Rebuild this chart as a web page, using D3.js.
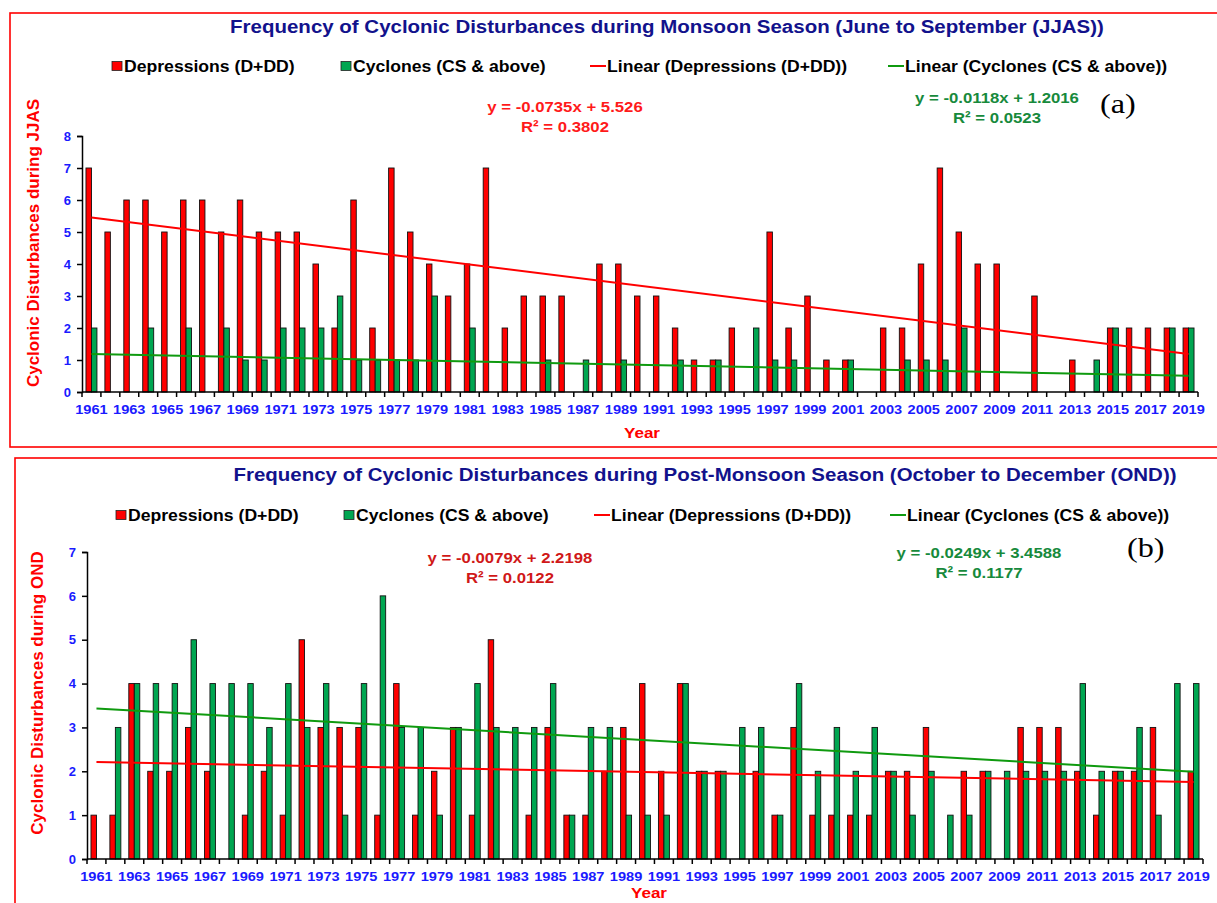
<!DOCTYPE html>
<html>
<head>
<meta charset="utf-8">
<script src="https://cdn.jsdelivr.net/npm/d3@7"></script>
<style>
  body { margin: 0; background: #fff; }
  svg { display: block; font-family: "Liberation Sans", Arial, sans-serif; }
</style>
</head>
<body>
<svg width="1217" height="903"></svg>
<script>
// ---- data ----
var years = [1961,1962,1963,1964,1965,1966,1967,1968,1969,1970,
             1971,1972,1973,1974,1975,1976,1977,1978,1979,1980,
             1981,1982,1983,1984,1985,1986,1987,1988,1989,1990,
             1991,1992,1993,1994,1995,1996,1997,1998,1999,2000,
             2001,2002,2003,2004,2005,2006,2007,2008,2009,2010,
             2011,2012,2013,2014,2015,2016,2017,2018,2019];

var yearLabels = [1961,1963,1965,1967,1969,1971,1973,1975,1977,1979,1981,1983,1985,
                  1987,1989,1991,1993,1995,1997,1999,2001,2003,2005,2007,2009,2011,
                  2013,2015,2017,2019];

// monsoon season (JJAS)
var jjasDepressions = [7,5,6,6,5,6,6,5,6,5, 5,5,4,2,6,2,7,5,4,3, 4,7,2,3,3,3,0,4,4,3,
                       3,2,1,1,2,0,5,2,3,1, 1,0,2,2,4,7,5,4,4,0, 3,0,1,0,2,2,2,2,2];
var jjasCyclones    = [2,0,0,2,0,2,0,2,1,1, 2,2,2,3,1,1,1,1,3,0, 2,0,0,0,1,0,1,0,1,0,
                       0,1,0,1,0,2,1,1,0,0, 1,0,0,1,1,1,2,0,0,0, 0,0,0,1,2,0,0,2,2];

// post-monsoon season (OND)
var ondDepressions  = [1,1,4,2,2,3,2,0,1,2, 1,5,3,3,3,1,4,1,2,3, 1,5,0,1,3,1,1,2,3,4,
                       2,4,2,2,0,2,1,3,1,1, 1,1,2,2,3,0,2,2,0,3, 3,3,2,1,2,2,3,0,2];
var ondCyclones     = [0,3,4,4,4,5,4,4,4,3, 4,3,4,1,4,6,3,3,1,3, 4,3,3,3,4,1,3,3,1,1,
                       1,4,2,2,3,3,1,4,2,3, 2,3,2,1,2,1,1,2,2,2, 2,2,4,2,2,3,1,4,4];

// trend lines as printed on the chart: [slope, intercept], x = 1..59
var jjasTrendDep = [-0.0735, 5.526];
var jjasTrendCyc = [-0.0118, 1.2016];
var ondTrendDep  = [-0.0079, 2.2198];
var ondTrendCyc  = [-0.0249, 3.4588];

var jjasEquations = [["y = -0.0735x + 5.526", "R\u00b2 = 0.3802"], ["y = -0.0118x + 1.2016", "R\u00b2 = 0.0523"]];
var ondEquations  = [["y = -0.0079x + 2.2198", "R\u00b2 = 0.0122"], ["y = -0.0249x + 3.4588", "R\u00b2 = 0.1177"]];

var legendLabels = ["Depressions (D+DD)", "Cyclones (CS & above)",
                    "Linear (Depressions (D+DD))", "Linear (Cyclones (CS & above))"];

var RED = "#ff0000", GREEN = "#00a651", TREND_GREEN = "#0f9a0f",
    BLUE = "#1a1aff", NAVY = "#12128c";

var svg = d3.select("svg");
svg.append("rect").attr("width", 1217).attr("height", 903).attr("fill", "#fff");

// the original figure is a little wider than its fonts; widen text to match
function widen(sel, k) {
  sel.each(function() {
    var w = this.getComputedTextLength();
    d3.select(this).attr("textLength", w * k).attr("lengthAdjust", "spacingAndGlyphs");
  });
  return sel;
}

function drawPanel(p) {
  var g = svg.append("g");

  // red frame
  g.append("rect")
      .attr("x", p.frame[0]).attr("y", p.frame[1])
      .attr("width", p.frame[2]).attr("height", p.frame[3])
      .attr("fill", "none").attr("stroke", RED).attr("stroke-width", 1.6);

  var x = d3.scaleBand().domain(years).range([p.left, p.right])
      .paddingInner(0.42).paddingOuter(0.21);
  var xs = d3.scaleBand().domain(["dep", "cyc"]).range([0, x.bandwidth()]);
  var y = d3.scaleLinear().domain([0, p.ymax]).range([p.bottom, p.top]);
  var step = x.step();

  // bars
  var rows = years.map(function(yr, i) {
    return {year: yr, dep: p.dep[i], cyc: p.cyc[i]};
  });
  ["dep", "cyc"].forEach(function(key) {
    g.selectAll(".bar-" + key)
      .data(rows.filter(function(d) { return d[key] > 0; }))
      .enter().append("rect")
        .attr("class", "bar-" + key)
        .attr("x", function(d) { return x(d.year) + xs(key); })
        .attr("y", function(d) { return y(d[key]); })
        .attr("width", xs.bandwidth())
        .attr("height", function(d) { return y(0) - y(d[key]); })
        .attr("fill", key == "dep" ? RED : GREEN)
        .attr("stroke", "#111").attr("stroke-width", 0.9);
  });

  // trend lines
  var xi = d3.scaleLinear().domain([1, years.length])
      .range([x(years[0]) + x.bandwidth() / 2, x(years[years.length - 1]) + x.bandwidth() / 2]);
  [[p.trendDep, RED], [p.trendCyc, TREND_GREEN]].forEach(function(t) {
    var c = t[0];
    g.append("line")
        .attr("x1", xi(1)).attr("y1", y(c[0] * 1 + c[1]))
        .attr("x2", xi(years.length)).attr("y2", y(c[0] * years.length + c[1]))
        .attr("stroke", t[1]).attr("stroke-width", 2);
  });

  // y axis
  var yAxis = g.append("g")
      .attr("transform", "translate(" + p.left + ",0)")
      .call(d3.axisLeft(y).ticks(p.ymax).tickSize(5).tickPadding(6).tickFormat(d3.format("d")));
  yAxis.select(".domain").attr("stroke", "#000").attr("stroke-width", 1.5);
  yAxis.selectAll(".tick line").attr("stroke", "#000").attr("stroke-width", 1.5);
  yAxis.selectAll("text").attr("fill", BLUE).attr("font-size", 13).attr("font-weight", "bold")
      .attr("font-family", "'Liberation Sans', Arial, sans-serif");

  // x axis: ticks between categories, labels every other year
  var xAxisG = g.append("g").attr("transform", "translate(0," + p.bottom + ")");
  xAxisG.append("line")
      .attr("x1", p.left).attr("x2", p.right)
      .attr("stroke", "#000").attr("stroke-width", 1.6);
  xAxisG.selectAll(".xtick")
    .data(years.concat([null]))
    .enter().append("line")
      .attr("class", "xtick")
      .attr("x1", function(d, i) { return p.left + i * step; })
      .attr("x2", function(d, i) { return p.left + i * step; })
      .attr("y1", 0).attr("y2", 5)
      .attr("stroke", "#000").attr("stroke-width", 1.5);
  widen(xAxisG.selectAll(".xlab")
    .data(yearLabels)
    .enter().append("text")
      .attr("class", "xlab")
      .attr("x", function(d) { return x(d) + x.bandwidth() / 2; })
      .attr("y", 21.5)
      .attr("text-anchor", "middle")
      .attr("fill", BLUE).attr("font-size", 13).attr("font-weight", "bold")
      .text(function(d) { return d; }), 1.12);

  // axis titles
  widen(g.append("text")
      .attr("x", p.yearX).attr("y", p.yearY)
      .attr("text-anchor", "middle")
      .attr("fill", RED).attr("font-size", 15.5).attr("font-weight", "bold")
      .text("Year"), 1.1);
  g.append("text")
      .attr("transform", "translate(" + p.ytitle[0] + "," + p.ytitle[1] + ") rotate(-90)")
      .attr("text-anchor", "middle")
      .attr("fill", RED).attr("font-size", 17).attr("font-weight", "bold")
      .text(p.ylabel);

  // chart title
  widen(g.append("text")
      .attr("x", p.title[0]).attr("y", p.title[1])
      .attr("text-anchor", "middle")
      .attr("fill", NAVY).attr("font-size", 17.5).attr("font-weight", "bold")
      .text(p.titleText), 1.17);

  // legend
  var lg = g.append("g").attr("transform", "translate(0," + p.legendY + ")");
  var kinds = ["box", "box", "line", "line"];
  var colors = [RED, GREEN, RED, TREND_GREEN];
  legendLabels.forEach(function(label, i) {
    var lx = p.legendX[i];
    if (kinds[i] == "box") {
      lg.append("rect").attr("x", lx).attr("y", -4.5).attr("width", 10).attr("height", 9)
        .attr("fill", colors[i]).attr("stroke", "#222").attr("stroke-width", 0.8);
      lx += 12;
    } else {
      lg.append("line").attr("x1", lx).attr("x2", lx + 16).attr("y1", 0).attr("y2", 0)
        .attr("stroke", colors[i]).attr("stroke-width", 2);
      lx += 17;
    }
    widen(lg.append("text").attr("x", lx).attr("y", 6)
      .attr("fill", "#000").attr("font-size", 16).attr("font-weight", "bold")
      .text(label), 1.1);
  });

  // trendline equations
  [[p.eqDep, p.eqDepColor, p.equations[0]], [p.eqCyc, "#178a3c", p.equations[1]]].forEach(function(e) {
    e[2].forEach(function(line, j) {
      widen(g.append("text")
          .attr("x", e[0][0]).attr("y", e[0][1] + j * e[0][2])
          .attr("text-anchor", "middle")
          .attr("fill", e[1]).attr("font-size", 15.5).attr("font-weight", "bold")
          .text(line), 1.08);
    });
  });

  // panel tag
  widen(g.append("text")
      .attr("x", p.tag[0]).attr("y", p.tag[1])
      .attr("fill", "#000").attr("font-size", 28)
      .attr("font-family", "'Liberation Serif', 'Times New Roman', serif")
      .text(p.tagText), 1.15);
}

drawPanel({
  frame: [10, 13, 1220, 434],
  left: 82, right: 1198, top: 136, bottom: 392, ymax: 8,
  dep: jjasDepressions, cyc: jjasCyclones,
  trendDep: jjasTrendDep, trendCyc: jjasTrendCyc,
  ylabel: "Cyclonic Disturbances during JJAS", ytitle: [39, 243],
  yearX: 642, yearY: 438,
  titleText: "Frequency of Cyclonic Disturbances during Monsoon Season (June to September (JJAS))",
  title: [667, 33],
  legendY: 66, legendX: [112, 341, 590, 888],
  equations: jjasEquations, eqDep: [565, 112, 20], eqDepColor: "#ff1a1a", eqCyc: [997, 103, 20],
  tag: [1100, 113], tagText: "(a)"
});

drawPanel({
  frame: [15, 458, 1220, 460],
  left: 87, right: 1203, top: 552, bottom: 859, ymax: 7,
  dep: ondDepressions, cyc: ondCyclones,
  trendDep: ondTrendDep, trendCyc: ondTrendCyc,
  ylabel: "Cyclonic Disturbances during OND", ytitle: [43, 693],
  yearX: 649, yearY: 898,
  titleText: "Frequency of Cyclonic Disturbances during Post-Monsoon Season (October to December (OND))",
  title: [705, 481],
  legendY: 515, legendX: [116, 344, 594, 890],
  equations: ondEquations, eqDep: [510, 563, 20], eqDepColor: "#d01818", eqCyc: [979, 558, 20],
  tag: [1127, 557], tagText: "(b)"
});
</script>
</body>
</html>
